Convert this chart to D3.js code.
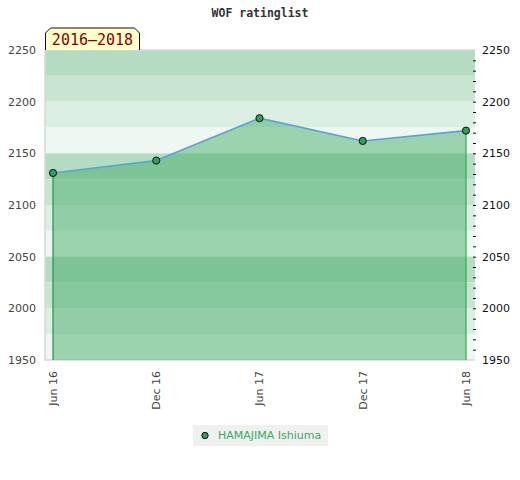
<!doctype html>
<html lang="en">
<head>
  <meta charset="utf-8">
  <script src="https://cdn.jsdelivr.net/npm/d3@7"></script>
  <title>WOF ratinglist</title>
  <style>
    body { margin: 0; background: #fff; }
    text { font-family: "DejaVu Sans", sans-serif; }
  </style>
</head>
<body>
  <svg id="chart" width="520" height="480"></svg>
  <script>
    // data
    var periods = ["Jun 16", "Dec 16", "Jun 17", "Dec 17", "Jun 18"];
    var ratings = [2131, 2143, 2184, 2162, 2172];
    var yTicks = [1950, 2000, 2050, 2100, 2150, 2200, 2250];
    var bandColors = ["#b3dcc2", "#c8e5d2", "#dbeee2", "#eef7f1"];
    var playerName = "HAMAJIMA Ishiuma";
    var rangeLabel = "2016–2018";

    var plotL = 45, plotR = 475, plotT = 50, plotB = 360;
    var svg = d3.select("#chart");

    var x = d3.scalePoint().domain(periods).range([53, 466]);
    var y = d3.scaleLinear().domain([1950, 2250]).range([plotB, plotT]);

    // title
    svg.append("text")
        .attr("x", 260)
        .attr("y", 17)
        .attr("text-anchor", "middle")
        .style("font-family", "DejaVu Sans Mono, monospace")
        .style("font-weight", "bold")
        .style("font-size", "11.5px")
        .attr("fill", "#333")
        .text("WOF ratinglist");

    // background bands, every 25 points
    var bands = d3.range(2250, 1950, -25);
    svg.append("g")
      .selectAll("rect")
      .data(bands)
      .enter()
      .append("rect")
        .attr("x", plotL)
        .attr("y", function(d) { return y(d); })
        .attr("width", plotR - plotL)
        .attr("height", function(d) { return y(d - 25) - y(d); })
        .attr("fill", function(d, i) { return bandColors[i % 4]; });

    // plot border
    svg.append("path")
        .attr("d", "M" + plotR + "," + plotT + "H" + plotL + "V" + plotB + "H" + plotR)
        .attr("fill", "none")
        .attr("stroke", "#d8d8d8")
        .attr("stroke-width", 1.5);

    // area under the line
    var area = d3.area()
        .x(function(d, i) { return x(periods[i]); })
        .y0(plotB)
        .y1(function(d) { return y(d); });
    svg.append("path")
        .datum(ratings)
        .attr("d", area)
        .attr("fill", "rgb(61,169,99)")
        .attr("fill-opacity", 0.47);

    // edge lines
    svg.append("line")
        .attr("x1", x(periods[0])).attr("x2", x(periods[0]))
        .attr("y1", y(ratings[0])).attr("y2", plotB)
        .attr("stroke", "#2e8a4a").attr("stroke-width", 1.2);
    svg.append("line")
        .attr("x1", x(periods[4])).attr("x2", x(periods[4]))
        .attr("y1", y(ratings[4])).attr("y2", plotB)
        .attr("stroke", "#2db04f").attr("stroke-width", 1.2);

    var line = d3.line()
        .x(function(d, i) { return x(periods[i]); })
        .y(function(d) { return y(d); });
    svg.append("path")
        .datum(ratings)
        .attr("d", line)
        .attr("fill", "none")
        .attr("stroke", "#5ba0d8")
        .attr("stroke-width", 1.6);

    svg.append("g")
      .selectAll("circle")
      .data(ratings)
      .enter()
      .append("circle")
        .attr("cx", function(d, i) { return x(periods[i]); })
        .attr("cy", function(d) { return y(d); })
        .attr("r", 3.6)
        .attr("fill", "#30a058")
        .attr("stroke", "#111")
        .attr("stroke-width", 1);

    // left axis labels
    svg.append("g")
      .selectAll("text")
      .data(yTicks)
      .enter()
      .append("text")
        .attr("x", 36)
        .attr("y", function(d) { return y(d); })
        .attr("dy", "0.35em")
        .attr("text-anchor", "end")
        .style("font-size", "11px")
        .attr("fill", "#444")
        .text(function(d) { return d; });

    // right axis: minor ticks every 10 and labels
    var yRight = d3.axisRight(y)
        .tickValues(d3.range(1960, 2250, 10))
        .tickSize(3)
        .tickFormat("");
    svg.append("g")
        .attr("transform", "translate(473,0)")
        .call(yRight)
        .call(function(g) { g.select(".domain").remove(); })
        .call(function(g) { g.selectAll("line").attr("stroke", "#111"); });
    svg.append("g")
      .selectAll("text")
      .data(yTicks)
      .enter()
      .append("text")
        .attr("x", 482)
        .attr("y", function(d) { return y(d); })
        .attr("dy", "0.35em")
        .style("font-size", "11px")
        .attr("fill", "#111")
        .text(function(d) { return d; });

    // x labels, rotated
    svg.append("g")
      .selectAll("text")
      .data(periods)
      .enter()
      .append("text")
        .attr("transform", function(d) { return "translate(" + x(d) + ",371) rotate(-90)"; })
        .attr("dy", "0.35em")
        .attr("text-anchor", "end")
        .style("font-size", "11px")
        .attr("fill", "#444")
        .text(function(d) { return d; });

    // range label box with clipped top corners
    svg.append("path")
        .attr("d", "M45.5,50V33L50.5,28H134.5L139.5,33V50")
        .attr("fill", "#ffffcc")
        .attr("stroke", "#111")
        .attr("stroke-width", 1);
    svg.append("text")
        .attr("x", 92.5)
        .attr("y", 45)
        .attr("text-anchor", "middle")
        .style("font-family", "DejaVu Sans Mono, monospace")
        .style("font-size", "15px")
        .attr("fill", "#8b0000")
        .text(rangeLabel);

    // legend
    var legend = svg.append("g");
    legend.append("rect")
        .attr("x", 193).attr("y", 425)
        .attr("width", 135).attr("height", 21)
        .attr("fill", "#f0f0f0");
    legend.append("circle")
        .attr("cx", 205).attr("cy", 435.5)
        .attr("r", 3.2)
        .attr("fill", "#30a058")
        .attr("stroke", "#111");
    legend.append("text")
        .attr("x", 218).attr("y", 435.5)
        .attr("dy", "0.35em")
        .style("font-size", "11px")
        .attr("fill", "#3aaa5f")
        .text(playerName);
  </script>
</body>
</html>
